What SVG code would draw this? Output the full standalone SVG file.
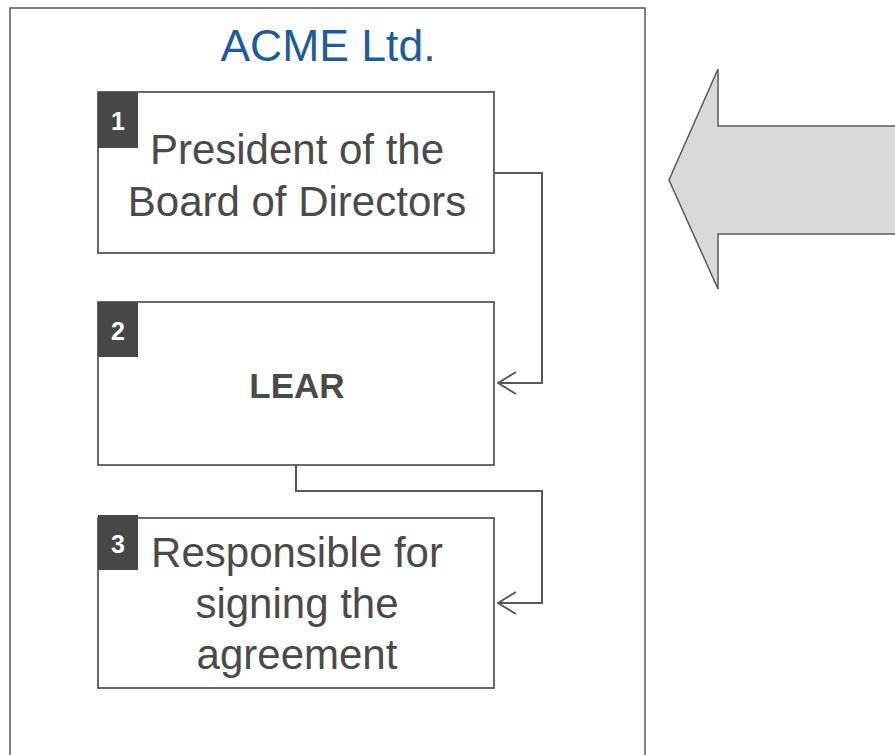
<svg xmlns="http://www.w3.org/2000/svg" width="895" height="755" viewBox="0 0 895 755">
<defs>
<style>
.frame{fill:#FFFFFF;stroke:#595959;stroke-width:1.5}
.box{fill:#FFFFFF;stroke:#595959;stroke-width:1.8}
.badge{fill:#474747}
.num{font-family:"Liberation Sans",Arial,sans-serif;font-weight:bold;font-size:25px;fill:#FFFFFF;text-anchor:middle}
.lbl{font-family:"Liberation Sans",Arial,sans-serif;font-size:42px;fill:#4A4A4A;text-anchor:middle}
.bold{font-weight:bold;font-size:35px}
.title{font-family:"Liberation Sans",Arial,sans-serif;font-size:44.5px;fill:#1D5C9C;text-anchor:middle}
.conn{fill:none;stroke:#595959;stroke-width:2}
.bigarrow{fill:#D9D9D9;stroke:#595959;stroke-width:1.5}
</style>
<marker id="open" viewBox="0 0 20 24" refX="19" refY="12" markerWidth="20" markerHeight="24" markerUnits="userSpaceOnUse" orient="auto">
<path d="M1,1 L19,12 L1,23" fill="none" stroke="#595959" stroke-width="2"/>
</marker>
</defs>
<rect width="895" height="755" fill="#FFFFFF"/>
<g id="container">
<rect class="frame" x="10" y="8" width="635" height="760"/>
<text class="title" x="328" y="61">ACME Ltd.</text>
</g>
<g id="node1">
<rect class="box" x="98" y="92" width="396" height="161"/>
<rect class="badge" x="98" y="92" width="40" height="56"/>
<text class="num" x="118" y="130">1</text>
<text class="lbl" x="297" y="164">President of the</text>
<text class="lbl" x="297" y="216">Board of Directors</text>
</g>
<g id="node2">
<rect class="box" x="98" y="302" width="396" height="163"/>
<rect class="badge" x="98" y="302" width="40" height="55"/>
<text class="num" x="118" y="340">2</text>
<text class="lbl bold" x="297" y="398">LEAR</text>
</g>
<g id="node3">
<rect class="box" x="98" y="518" width="396" height="170"/>
<rect class="badge" x="98" y="515" width="40" height="55"/>
<text class="num" x="118" y="553">3</text>
<text class="lbl" x="297" y="567">Responsible for</text>
<text class="lbl" x="297" y="618">signing the</text>
<text class="lbl" x="297" y="669">agreement</text>
</g>
<g id="connectors">
<path class="conn" d="M494,173 H542 V383 H498" marker-end="url(#open)"/>
<path class="conn" d="M296,465 V491 H542 V603 H498" marker-end="url(#open)"/>
</g>
<g id="bigArrow">
<path class="bigarrow" d="M900,126 H718 V69 L669,180 L718,289 V234 H900 Z"/>
</g>
</svg>
